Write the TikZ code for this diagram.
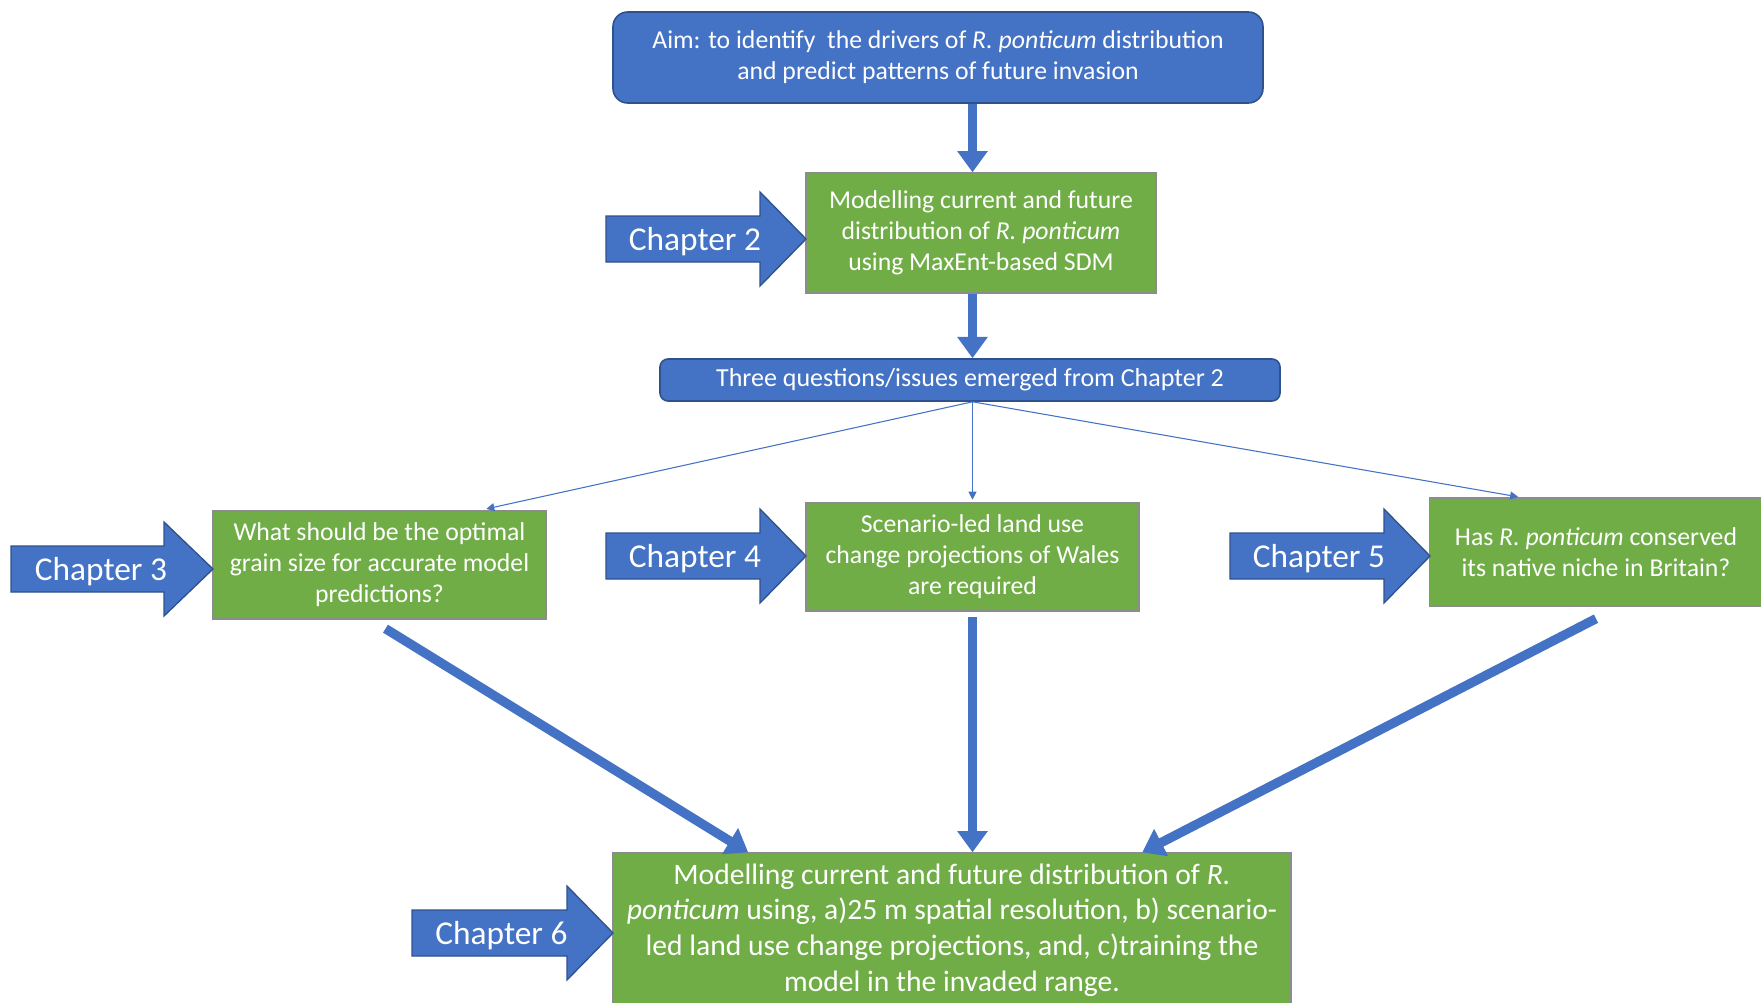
\documentclass[tikz,border=0pt]{standalone}
\usepackage{fontspec}
\setmainfont{Carlito}
\usetikzlibrary{arrows.meta,calc}
\definecolor{aimblue}{HTML}{4472C4}
\definecolor{edgeblue}{HTML}{2F528F}
\definecolor{boxgreen}{HTML}{70AD47}
\definecolor{edgegray}{HTML}{8C8C8C}
\tikzset{
    bluebox/.style={draw=edgeblue, fill=aimblue, text=white, line width=1.2pt, align=center, inner sep=0pt},
    greenbox/.style={draw=edgegray, fill=boxgreen, text=white, line width=1pt, align=center, inner sep=0pt,
        font=\fontsize{19.3}{23.2}\selectfont},
    bigarrow/.style={draw=aimblue, line width=7pt, -{Triangle[width=22pt,length=16pt]}},
    thinarrow/.style={draw=aimblue, line width=0.8pt, -{Triangle[width=6pt,length=6pt]}},
}
\begin{document}
\begin{tikzpicture}[x=0.75pt, y=-0.75pt]
    % 画布
    \useasboundingbox (0,0) rectangle (1761,1003);
    \fill[white] (0,0) rectangle (1761,1003);

    % 目标
    \node[bluebox, rounded corners=11pt, minimum width=487.5pt, minimum height=68.25pt,
          font=\fontsize{19.3}{23.2}\selectfont] (aim) at (938,57.5)
        {Aim: to identify\ \ the drivers of \textit{R. ponticum} distribution\\and predict patterns of future invasion};

    % 第二章
    \node[greenbox, minimum width=262.5pt, minimum height=90pt] (ch2box) at (981,233)
        {Modelling current and future\\distribution of \textit{R. ponticum}\\using MaxEnt-based SDM};

    % 三个问题
    \node[bluebox, rounded corners=6pt, minimum width=465pt, minimum height=31.5pt,
          font=\fontsize{19.5}{23}\selectfont] (three) at (970,380)
        {Three questions/issues emerged from Chapter 2};

    % 第三、四、五章的问题
    \node[greenbox, minimum width=249.75pt, minimum height=81pt] (q3) at (379.5,565)
        {What should be the optimal\\grain size for accurate model\\predictions?};
    \node[greenbox, minimum width=249.75pt, minimum height=81pt] (q4) at (972.5,557)
        {Scenario-led land use\\change projections of Wales\\are required};
    \node[greenbox, minimum width=249.75pt, minimum height=81pt] (q5) at (1596,552)
        {Has \textit{R. ponticum} conserved\\its native niche in Britain?};

    % 第六章
    \node[greenbox, minimum width=508.5pt, minimum height=115.5pt,
          font=\fontsize{22.2}{26.7}\selectfont] (ch6box) at (952,930)
        {Modelling current and future distribution of \textit{R.}\\\textit{ponticum} using, a)25 m spatial resolution, b) scenario-\\led land use change projections, and, c)training the\\model in the invaded range.};

    % 章节箭头
    \foreach \n/\xa/\xh/\xb/\yc in {
        2/606/760/806/239,
        3/11/164/213/569,
        4/606/760/806/556,
        5/1230/1384/1430/556,
        6/412/567/613/933%
    } {
        \draw[edgeblue, fill=aimblue, line width=1pt]
            (\xa,\yc-23) -- (\xh,\yc-23) -- (\xh,\yc-47) -- (\xb,\yc)
            -- (\xh,\yc+47) -- (\xh,\yc+23) -- (\xa,\yc+23) -- cycle;
        \node[text=white, font=\fontsize{25}{30}\selectfont] (chap\n) at ({(\xa+\xb)/2-11},\yc+3) {Chapter \n};
    }

    % 连接
    \draw[bigarrow] (aim.south -| q4) -- (ch2box.north -| q4);
    \draw[bigarrow] (ch2box.south -| q4) -- (three.north -| q4);
    \draw[thinarrow, shorten >=5pt] (three.south -| q4) -- ($(q3.north)!0.6!(q3.north east)$);
    \draw[thinarrow, shorten >=2pt] (three.south -| q4) -- (q4.north);
    \draw[thinarrow, shorten >=2pt] (three.south -| q4) -- ($(q5.north)!0.45!(q5.north west)$);
    \draw[bigarrow] ($(q3.south)+(6,9)$) -- ($(ch6box.north)!0.6!(ch6box.north west)$);
    \draw[bigarrow, shorten <=4pt] (q4.south) -- (ch6box.north -| q4);
    \draw[bigarrow] ($(q5.south)+(0,12)$) -- ($(ch6box.north)!0.56!(ch6box.north east)$);

\end{tikzpicture}
\end{document}
